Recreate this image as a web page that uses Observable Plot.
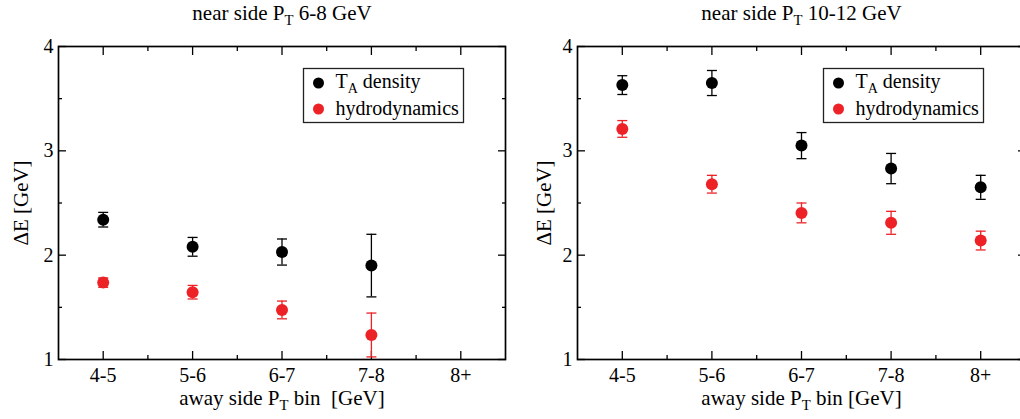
<!DOCTYPE html>
<html><head><meta charset="utf-8">
<script src="https://cdn.jsdelivr.net/npm/d3@7"></script>
<script src="https://cdn.jsdelivr.net/npm/@observablehq/plot@0.6"></script>
<style>
html,body{margin:0;padding:0;background:#fff;overflow:hidden}
#wrap{position:relative;width:1020px;height:419px;overflow:hidden;background:#fff}
#wrap svg{position:absolute;top:0;max-width:none}
</style></head><body><div id="wrap"></div>
<script>
// categories (away side pT bins) and tick values
const bins = ["4-5", "5-6", "6-7", "7-8", "8+"];
const xTicks = [1, 2, 3, 4, 5];
const xMinor = [1.5, 2.5, 3.5, 4.5];
const yTicks = [1, 2, 3, 4];
const yMinor = [1.5, 2.5, 3.5];

// left panel: near side pT 6-8 GeV
const leftTA = [2.34, 2.08, 2.03, 1.90];
const leftTAErr = [0.07, 0.09, 0.125, 0.30];
const leftHydro = [1.737, 1.645, 1.475, 1.235];
const leftHydroErr = [0.045, 0.065, 0.085, 0.21];

// right panel: near side pT 10-12 GeV
const rightTA = [3.63, 3.65, 3.05, 2.83, 2.65];
const rightTAErr = [0.09, 0.12, 0.125, 0.145, 0.115];
const rightHydro = [3.21, 2.68, 2.405, 2.31, 2.14];
const rightHydroErr = [0.08, 0.085, 0.095, 0.11, 0.09];

const seriesNames = ["T_A density", "hydrodynamics"];
const RED = "#ec2227";
const BLACK = "#000000";

const cap = {draw(ctx, size) { const w = Math.sqrt(size / Math.PI); ctx.moveTo(-w, 0); ctx.lineTo(w, 0); }};

function rows(v, e) { return v.map((y, i) => ({x: i + 1, y, lo: y - e[i], hi: y + e[i]})); }

function series(data, color) {
  return [
    Plot.ruleX(data, {x: "x", y1: "lo", y2: "hi", stroke: color, strokeWidth: 1.3}),
    Plot.dot(data, {x: "x", y: "lo", symbol: cap, r: 5, stroke: color, strokeWidth: 1.3, fill: "none"}),
    Plot.dot(data, {x: "x", y: "hi", symbol: cap, r: 5, stroke: color, strokeWidth: 1.3, fill: "none"}),
    Plot.dot(data, {x: "x", y: "y", r: 6, fill: color, stroke: "none"})
  ];
}

function panel(o) {
  const fw = o.width - o.marginLeft - o.marginRight;
  const marks = [
    Plot.axisX({anchor: "bottom", ticks: xTicks, tickFormat: d => bins[d - 1], tickSize: -8, tickPadding: 16, strokeWidth: 1.3, label: null}),
    Plot.axisX({anchor: "bottom", ticks: xMinor, tickFormat: () => "", tickSize: -4, strokeWidth: 1.3, label: null}),
    Plot.axisX({anchor: "top", ticks: xTicks, tickFormat: () => "", tickSize: -8, strokeWidth: 1.3, label: null}),
    Plot.axisX({anchor: "top", ticks: xMinor, tickFormat: () => "", tickSize: -4, strokeWidth: 1.3, label: null}),
    Plot.axisY({anchor: "left", ticks: yTicks, tickFormat: d => String(d), tickSize: -8, tickPadding: 13, strokeWidth: 1.3, label: null}),
    Plot.axisY({anchor: "left", ticks: yMinor, tickFormat: () => "", tickSize: -4, strokeWidth: 1.3, label: null}),
    Plot.axisY({anchor: "right", ticks: yTicks, tickFormat: () => "", tickSize: -8, strokeWidth: 1.3, label: null}),
    Plot.axisY({anchor: "right", ticks: yMinor, tickFormat: () => "", tickSize: -4, strokeWidth: 1.3, label: null}),
    ...series(rows(o.hy, o.hyErr), RED),
    ...series(rows(o.ta, o.taErr), BLACK),
    Plot.frame({stroke: "black", strokeWidth: 1.7}),
    // legend
    Plot.frame({stroke: "#222", strokeWidth: 1.3, fill: "white",
      insetLeft: fw - 42 - 160, insetRight: 42, insetTop: 22, insetBottom: 313 - 22 - 54}),
    Plot.dot([0], {frameAnchor: "top-left", dx: o.legDotDx, dy: 36.5, r: 5.5, fill: BLACK}),
    Plot.dot([0], {frameAnchor: "top-left", dx: o.legDotDx, dy: 62.5, r: 5.5, fill: RED}),
    Plot.text([seriesNames[0]], {text: d => d, frameAnchor: "top-left", dx: o.legDotDx + 17, dy: 35, textAnchor: "start", lineAnchor: "middle", fontSize: 20}),
    Plot.text([seriesNames[1]], {text: d => d, frameAnchor: "top-left", dx: o.legDotDx + 17, dy: 62, textAnchor: "start", lineAnchor: "middle", fontSize: 20}),
    // titles and axis labels
    Plot.text([o.title], {text: d => d, frameAnchor: "top", dy: -27, lineAnchor: "bottom", fontSize: 21}),
    Plot.text([o.xlabel], {text: d => d, frameAnchor: "bottom", dy: 45, lineAnchor: "bottom", fontSize: 21}),
    Plot.text(["ΔE [GeV]"], {text: d => d, frameAnchor: "left", dx: o.ylabDx, rotate: -90, textAnchor: "middle", lineAnchor: "middle", fontSize: 21})
  ];
  const svg = Plot.plot({
    width: o.width, height: 419,
    marginLeft: o.marginLeft, marginRight: o.marginRight, marginTop: 46, marginBottom: 60,
    x: {type: "linear", domain: [0.5, 5.5], label: null},
    y: {type: "linear", domain: [1, 4], label: null},
    style: {fontFamily: "Liberation Serif", fontSize: "20px", color: "black", background: "white"},
    marks
  });
  // subscripts: "X_Y" -> X with subscript Y
  d3.select(svg).selectAll("text").each(function() {
    const s = this.textContent;
    const m = s.match(/^(.*)_(\S)(.*)$/);
    if (!m) return;
    const t = d3.select(this);
    t.text(null);
    t.append("tspan").text(m[1]);
    t.append("tspan").attr("dy", 5).attr("font-size", "70%").text(m[2]);
    t.append("tspan").attr("dy", -5).text(m[3]);
  });
  svg.style.left = o.left + "px";
  return svg;
}

const wrap = document.getElementById("wrap");
wrap.appendChild(panel({left: 0, width: 510, marginLeft: 58, marginRight: 5,
  title: "near side P_T 6-8 GeV", xlabel: "away side P_T bin  [GeV]",
  ta: leftTA, taErr: leftTAErr, hy: leftHydro, hyErr: leftHydroErr,
  legDotDx: 260, ylabDx: -37}));
wrap.appendChild(panel({left: 510, width: 520, marginLeft: 67, marginRight: 5,
  title: "near side P_T 10-12 GeV", xlabel: "away side P_T bin [GeV]",
  ta: rightTA, taErr: rightTAErr, hy: rightHydro, hyErr: rightHydroErr,
  legDotDx: 261, ylabDx: -33}));
</script></body></html>
